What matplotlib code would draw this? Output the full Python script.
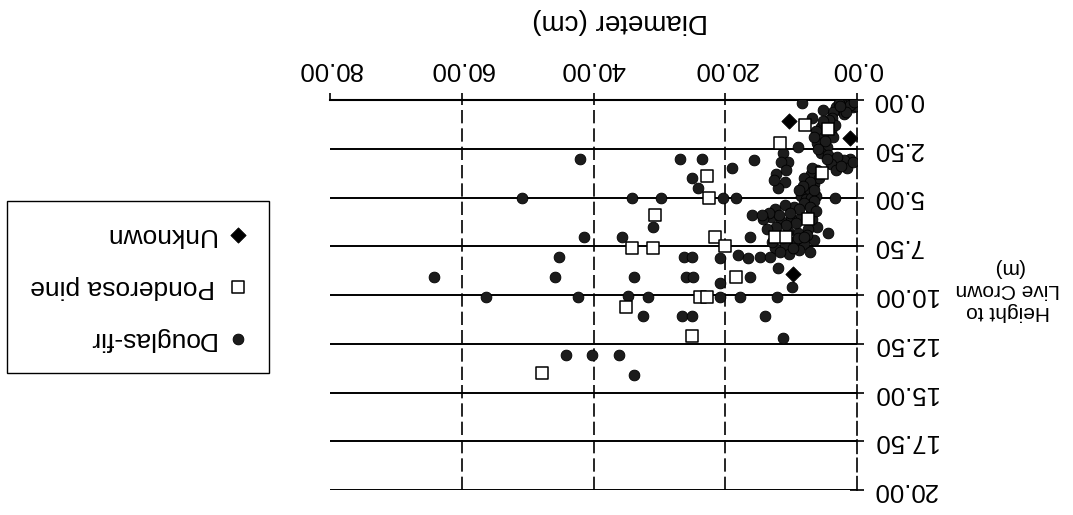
import matplotlib
matplotlib.use("Agg")
import matplotlib.pyplot as plt

plt.rcParams['font.family'] = ['Liberation Sans', 'DejaVu Sans']

# Douglas-fir: diameter (cm), height to live crown (m)
df_diam = [0.3, 0.8, 1.3, 1.8, 2.3, 0.6, 1.5, 2.5, 3.2, 2.0,
           0.2, 1.0, 2.8, 3.6, 1.7, 2.6, 0.5,
           6.8, 5.2, 8.4,
           3.8, 4.6, 5.5, 6.2, 4.0, 5.0, 6.0, 4.5, 5.5, 3.3,
           4.2, 5.2, 6.6, 3.6, 4.9, 5.9, 4.4,
           9.0, 11.3, 10.5,
           1.0, 2.0, 3.0, 4.0, 1.5, 3.2, 2.5, 0.6, 4.5,
           6.0, 7.0, 8.0, 6.5, 7.5, 8.5, 6.2, 7.8,
           5.8, 6.8, 7.2, 8.2, 7.0, 8.8, 6.6,
           11.5, 12.3, 11.0, 12.0, 10.8, 12.6,
           3.4, 4.4,
           6.5, 8.0, 9.5, 11.0, 12.5, 7.0, 8.5, 10.0, 11.5, 13.0,
           6.0, 7.5, 9.0, 10.5, 12.0, 6.5, 8.0, 9.5, 11.0, 12.5, 7.2, 10.3, 8.8,
           7.2, 8.8, 10.2, 11.8, 13.3, 6.8, 9.3, 10.8, 12.3, 7.6, 9.0, 11.2, 12.9,
           8.0, 9.7, 11.7, 6.2, 13.6,
           14.3, 16.3, 16.0,
           26.2, 25.0, 20.8, 18.1, 16.6, 14.8, 13.2,
           12.0, 9.9, 12.2, 17.8, 20.8, 20.8, 26.0, 24.9, 16.3,
           26.9, 23.6, 15.7, 18.9, 25.1, 24.2, 29.7, 20.4, 18.3, 14.4,
           42.1, 50.8, 34.1, 31.0, 41.4, 35.6,
           45.3, 45.8, 33.8, 56.3, 42.4, 34.8, 31.8, 32.5, 26.5, 25.1,
           44.1, 40.2, 36.2, 33.9, 64.2, 11.3, 14.0]
df_height = [0.1, 0.05, 0.15, 0.1, 0.2, 0.35, 0.4, 0.5, 0.35, 0.7,
             0.3, 0.25, 0.15, 0.6, 0.6, 0.3, 0.1,
             0.9, 0.5, 0.15,
             0.9, 1.2, 1.4, 1.6, 1.6, 1.9, 2.2, 2.4, 2.7, 1.3,
             1.0, 1.1, 1.9, 1.9, 2.1, 2.5, 2.8,
             2.4, 2.7, 3.2,
             3.0, 3.1, 2.9, 3.3, 3.5, 3.6, 3.4, 3.2, 3.0,
             3.6, 3.8, 4.0, 4.3, 4.6, 4.9, 4.9, 5.1,
             4.0, 3.5, 4.2, 4.4, 5.0, 4.6, 4.6,
             3.2, 3.8, 4.2, 4.5, 3.6, 4.1,
             5.0, 6.8,
             5.2, 5.3, 5.5, 5.4, 5.6, 5.8, 6.0, 6.1, 6.2, 6.0,
             6.5, 6.6, 6.8, 6.7, 6.9, 7.2, 7.4, 7.3, 7.5, 7.6, 7.8, 7.9, 7.7,
             5.5, 5.6, 5.8, 5.9, 5.8, 6.1, 6.3, 6.4, 6.5, 6.9, 7.1, 7.1, 7.3,
             7.0, 7.6, 7.8, 5.7, 6.6,
             6.1, 7.0, 5.9,
             8.05, 8.05, 8.1, 7.95, 8.1, 8.05, 8.05,
             8.6, 9.6, 10.1, 10.1, 10.1, 9.4, 9.1, 9.1, 9.1,
             3.0, 3.0, 3.1, 3.5, 4.0, 4.5, 5.0, 5.0, 5.0, 5.9,
             3.0, 5.0, 5.0, 6.5, 7.0, 7.0,
             8.05, 9.1, 9.1, 10.1, 10.1, 10.05, 10.1, 11.1, 11.1, 11.1,
             13.1, 13.1, 13.1, 14.1, 9.1, 12.2, 11.1]

# Ponderosa pine
pp_diam = [7.9, 11.7, 4.4, 5.3, 12.5, 10.8, 21.6, 20.0, 18.3, 23.9, 22.8,
           7.5, 22.8, 22.4, 30.7, 34.2, 31.0, 35.0, 25.1, 47.8]
pp_height = [1.3, 2.2, 1.5, 3.75, 7.0, 7.0, 7.0, 7.5, 9.1, 10.1, 10.1,
             6.1, 3.9, 5.0, 5.9, 7.6, 7.6, 10.6, 12.1, 14.0]

# Unknown
uk_diam = [10.3, 1.1, 9.7]
uk_height = [1.1, 1.95, 8.9]

x_ticks = [0, 20, 40, 60, 80]
y_ticks = [0, 2.5, 5, 7.5, 10, 12.5, 15, 17.5, 20]

fig = plt.figure(figsize=(10.73, 5.15), dpi=100)
ax = fig.add_axes([330 / 1073, 1 - 490 / 515, 527 / 1073, 390 / 515])

s_df = ax.scatter(df_diam, df_height, s=60, marker='o', facecolor='#1c1c1c',
                  edgecolor='black', linewidth=0.6, label='Douglas-fir', zorder=3)
s_pp = ax.scatter(pp_diam, pp_height, s=70, marker='s', facecolor='white',
                  edgecolor='black', linewidth=1.1, label='Ponderosa pine', zorder=4)
s_uk = ax.scatter(uk_diam, uk_height, s=60, marker='D', facecolor='black',
                  edgecolor='black', linewidth=0.6, label='Unknown', zorder=5)

# chart is printed upside down: axes reversed, text turned 180 degrees
ax.set_xlim(80, 0)
ax.set_ylim(20, 0)
ax.set_xticks(x_ticks)
ax.set_yticks(y_ticks)
ax.set_xticklabels([f"{v:.2f}" for v in x_ticks])
ax.set_yticklabels([f"{v:.2f}" for v in y_ticks])
ax.xaxis.tick_top()
ax.yaxis.tick_right()
ax.tick_params(axis='x', labelrotation=180, labelsize=18.5, direction='out',
               length=5, width=1.2, pad=9)
ax.tick_params(axis='y', labelrotation=180, labelsize=18.5, direction='inout',
               length=10, width=1.2, pad=6)
for lab in ax.get_yticklabels():
    lab.set_va('center')

for v in y_ticks[1:]:
    ax.axhline(v, color='black', linewidth=1.4, zorder=1)
for v in x_ticks[1:4]:
    ax.axvline(v, color='black', linewidth=1.2, linestyle=(0, (8, 3)), zorder=1)

ax.spines['left'].set_visible(False)
ax.spines['bottom'].set_visible(False)
ax.spines['top'].set_linewidth(1.5)
ax.spines['right'].set_linewidth(1.2)
ax.spines['right'].set_linestyle((0, (8, 3)))

ax.xaxis.set_label_position('top')
ax.set_xlabel("Diameter (cm)", fontsize=20, rotation=180)
ax.xaxis.set_label_coords((620 - 330) / 527, 1 + (100 - 28) / 390)
ax.yaxis.set_label_position('right')
ax.set_ylabel("Height to\nLive Crown\n(m)", fontsize=15, rotation=180,
              ha='center', va='center', multialignment='center')
ax.yaxis.set_label_coords((1008 - 330) / 527, (490 - 290) / 390)

leg = ax.legend(handles=[s_uk, s_pp, s_df], loc='center',
                bbox_to_anchor=(138 / 1073, 1 - 287 / 515),
                bbox_transform=fig.transFigure, markerfirst=False,
                fontsize=19, frameon=True, fancybox=False, edgecolor='black',
                framealpha=1, borderpad=0.85, labelspacing=1.05,
                handlelength=0.6, handletextpad=0.6, scatterpoints=1)
leg.get_frame().set_linewidth(1.0)
for t in leg.get_texts():
    t.set_rotation(180)

fig.savefig("out.png", dpi=100)
